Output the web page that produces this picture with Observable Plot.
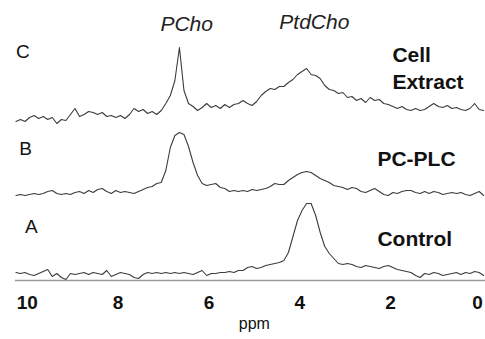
<!DOCTYPE html>
<html>
<head>
<meta charset="utf-8">
<script src="https://cdn.jsdelivr.net/npm/d3@7"></script>
<script src="https://cdn.jsdelivr.net/npm/@observablehq/plot@0.6"></script>
<style>
  html, body { margin: 0; padding: 0; background: #fff; }
  #chart svg { display: block; }
  g[aria-label="x-axis tick label"] text { font-weight: bold; }
</style>
</head>
<body>
<div id="chart"></div>
<script>
// chemical shift grid (ppm)
const ppm = [10.25,10.15,10.05,9.95,9.85,9.75,9.65,9.55,9.45,9.35,
  9.25,9.15,9.05,8.95,8.85,8.75,8.65,8.55,8.45,8.35,
  8.25,8.15,8.05,7.95,7.85,7.75,7.65,7.55,7.45,7.35,
  7.25,7.15,7.05,6.95,6.85,6.75,6.65,6.55,6.45,6.35,
  6.25,6.15,6.05,5.95,5.85,5.75,5.65,5.55,5.45,5.35,
  5.25,5.15,5.05,4.95,4.85,4.75,4.65,4.55,4.45,4.35,
  4.25,4.15,4.05,3.95,3.85,3.75,3.65,3.55,3.45,3.35,
  3.25,3.15,3.05,2.95,2.85,2.75,2.65,2.55,2.45,2.35,
  2.25,2.15,2.05,1.95,1.85,1.75,1.65,1.55,1.45,1.35,
  1.25,1.15,1.05,0.95,0.85,0.75,0.65,0.55,0.45,0.35,
  0.25,0.15,0.05,-0.05];

// A: Control
const controlValues = [8,7,8,6,5,7,9,11,4,7,
  3,1,7,6,7,8,6,8,7,6,
  10,4,6,8,7,6,3,2,6,8,
  7,8,7,8,7,8,7,8,7,6,
  8,10,5,7,7,8,8,9,8,10,
  10,13,14,12,13,15,16,17,18,20,
  28,44,60,70,77,77,65,48,34,27,
  22,17,16,17,16,14,13,15,14,13,
  12,14,15,13,11,10,9,8,5,3,
  7,6,8,7,5,6,7,8,6,8,
  7,9,8,5];

// B: PC-PLC
const pcplcValues = [5,6,5,6,7,6,7,9,10,7,
  6,7,6,8,9,7,10,8,11,12,
  9,7,10,8,9,8,7,9,11,13,
  14,17,18,30,53,65,68,66,54,38,
  25,17,15,16,17,13,12,9,10,9,
  10,9,11,10,11,12,14,17,16,16,
  20,23,26,28,29,28,25,22,20,18,
  15,14,13,11,13,12,9,8,10,12,
  9,6,5,8,7,9,10,10,8,7,
  9,7,9,8,6,7,8,7,8,6,
  5,7,9,5];

// C: Cell Extract
const extractValues = [4,6,4,8,10,7,9,6,8,2,
  6,5,11,17,9,11,14,13,11,13,
  9,10,8,10,7,11,17,14,16,12,
  14,11,15,22,30,45,78,35,22,19,
  15,18,22,18,20,17,21,18,21,22,
  25,22,20,24,30,34,37,36,39,39,
  43,46,51,54,57,51,50,47,40,36,
  35,32,33,28,29,25,27,23,28,25,
  26,22,21,19,17,19,16,15,17,15,
  16,19,22,19,18,20,17,18,16,15,
  17,22,16,15];

const seriesNames = ["Control", "PC-PLC", "Cell\nExtract"];
const panelLetters = ["A", "B", "C"];
const peakNames = ["PCho", "PtdCho"];
const xTicks = [10, 8, 6, 4, 2];
const xEdgeTick = [0];
const xLabel = "ppm";

// vertical stacking of the three spectra (display offsets)
const stackOffsets = [0, 80, 155];

const seriesValues = [controlValues, pcplcValues, extractValues];
const rows = [];
seriesValues.forEach((vals, k) => {
  vals.forEach((v, i) => rows.push({trace: panelLetters[k], ppm: ppm[i], y: v + stackOffsets[k]}));
});

const font = "'Liberation Sans', Arial, Helvetica, sans-serif";

const letterAnn = [
  {t: panelLetters[2], x: 10.1, y: 229},
  {t: panelLetters[1], x: 10.04, y: 132},
  {t: panelLetters[0], x: 9.91, y: 54}
];
const nameAnn = [
  {t: seriesNames[2], x: 1.96, y: 213.5},
  {t: seriesNames[1], x: 2.29, y: 123},
  {t: seriesNames[0], x: 2.29, y: 43}
];
const peakAnn = [
  {t: peakNames[0], x: 6.49, y: 256},
  {t: peakNames[1], x: 3.68, y: 258}
];

const axisText = {tickSize: 0, tickPadding: 15, fontSize: 19, fontWeight: "bold", label: null, tickFormat: d => String(d), fill: "#111"};

const chart = Plot.plot({
  width: 485,
  height: 339,
  marginLeft: 15,
  marginRight: 0,
  marginTop: 0,
  marginBottom: 59,
  style: {fontFamily: font, background: "#fff", color: "#000", overflow: "visible"},
  x: {domain: [10.26, -0.09]},
  y: {domain: [0, 280], axis: null},
  marks: [
    Plot.ruleY([0], {stroke: "#9a9a9a", strokeWidth: 1.3}),
    Plot.axisX({...axisText, ticks: xTicks}),
    Plot.axisX({...axisText, ticks: xEdgeTick, dx: -4}),
    Plot.line(rows, {x: "ppm", y: "y", z: "trace", stroke: "#3c3c3c", strokeWidth: 1.1, strokeLinejoin: "round"}),
    Plot.text(letterAnn, {x: "x", y: "y", text: "t", fontSize: 19, textAnchor: "middle", fill: "#111"}),
    Plot.text(nameAnn, {x: "x", y: "y", text: "t", fontSize: 21, fontWeight: "bold", textAnchor: "start", lineHeight: 1.25, fill: "#111"}),
    Plot.text(peakAnn, {x: "x", y: "y", text: "t", fontSize: 21, fontStyle: "italic", textAnchor: "middle", fill: "#222"}),
    Plot.text([xLabel], {x: 5.0, y: -43, text: d => d, fontSize: 16, textAnchor: "middle", fill: "#111"})
  ]
});
document.getElementById("chart").appendChild(chart);
</script>
</body>
</html>
